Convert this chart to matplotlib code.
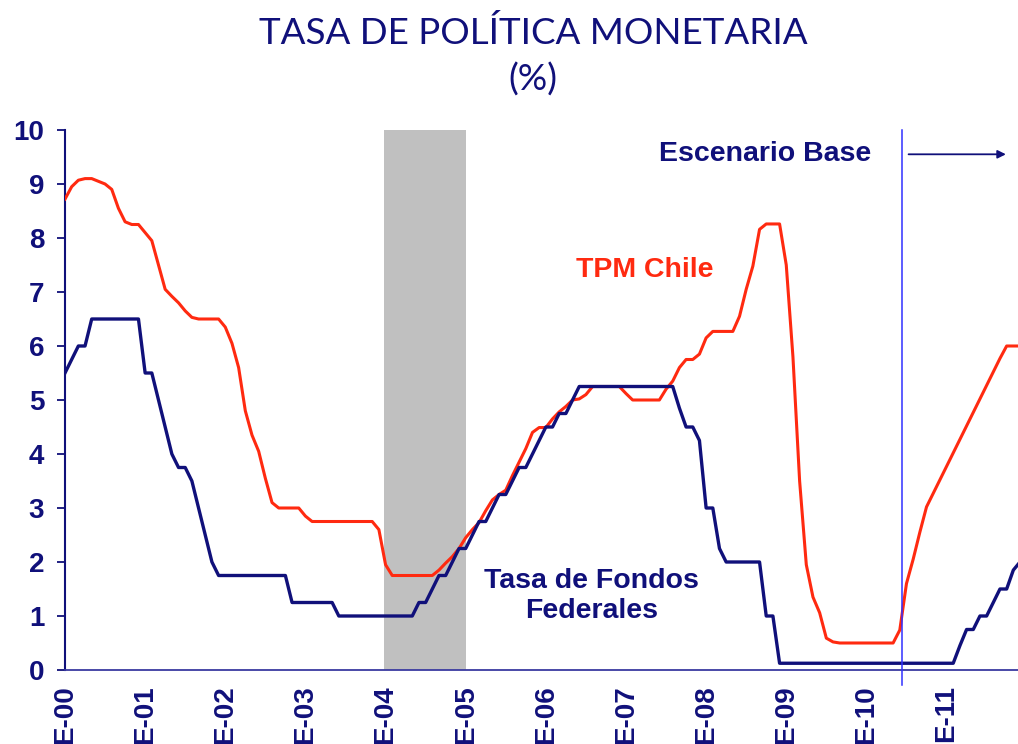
import matplotlib
matplotlib.use("Agg")
import matplotlib.pyplot as plt
import numpy as np

# monthly data, Jan 2000 - Dec 2011
tpm_chile = [
    8.72, 8.95, 9.07, 9.1, 9.1, 9.05, 9.0, 8.9, 8.55, 8.3, 8.25, 8.25,      # 2000
    8.1, 7.95, 7.5, 7.05, 6.92, 6.8, 6.65, 6.53, 6.5, 6.5, 6.5, 6.5,        # 2001
    6.35, 6.05, 5.6, 4.8, 4.35, 4.05, 3.55, 3.1, 3.0, 3.0, 3.0, 3.0,        # 2002
    2.85, 2.75, 2.75, 2.75, 2.75, 2.75, 2.75, 2.75, 2.75, 2.75, 2.75, 2.6,  # 2003
    1.95, 1.75, 1.75, 1.75, 1.75, 1.75, 1.75, 1.75, 1.85, 1.98, 2.1, 2.25,  # 2004
    2.45, 2.6, 2.73, 2.95, 3.15, 3.25, 3.33, 3.6, 3.85, 4.1, 4.4, 4.49,     # 2005
    4.49, 4.65, 4.78, 4.88, 5.0, 5.02, 5.1, 5.25, 5.25, 5.25, 5.25, 5.25,   # 2006
    5.12, 5.0, 5.0, 5.0, 5.0, 5.0, 5.2, 5.35, 5.6, 5.75, 5.75, 5.85,        # 2007
    6.15, 6.27, 6.27, 6.27, 6.27, 6.55, 7.05, 7.48, 8.16, 8.26, 8.26, 8.26, # 2008
    7.5, 5.8, 3.5, 1.95, 1.35, 1.06, 0.59, 0.52, 0.5, 0.5, 0.5, 0.5,        # 2009
    0.5, 0.5, 0.5, 0.5, 0.5, 0.74, 1.6, 2.05, 2.55, 3.02, 3.27, 3.52,       # 2010
    3.77, 4.02, 4.27, 4.52, 4.77, 5.02, 5.27, 5.52, 5.77, 6.0, 6.0, 6.0,    # 2011
]
fed_funds = [
    5.5, 5.75, 6.0, 6.0, 6.5, 6.5, 6.5, 6.5, 6.5, 6.5, 6.5, 6.5,
    5.5, 5.5, 5.0, 4.5, 4.0, 3.75, 3.75, 3.5, 3.0, 2.5, 2.0, 1.75,
    1.75, 1.75, 1.75, 1.75, 1.75, 1.75, 1.75, 1.75, 1.75, 1.75, 1.25, 1.25,
    1.25, 1.25, 1.25, 1.25, 1.25, 1.0, 1.0, 1.0, 1.0, 1.0, 1.0, 1.0,
    1.0, 1.0, 1.0, 1.0, 1.0, 1.25, 1.25, 1.5, 1.75, 1.75, 2.0, 2.25,
    2.25, 2.5, 2.75, 2.75, 3.0, 3.25, 3.25, 3.5, 3.75, 3.75, 4.0, 4.25,
    4.5, 4.5, 4.75, 4.75, 5.0, 5.25, 5.25, 5.25, 5.25, 5.25, 5.25, 5.25,
    5.25, 5.25, 5.25, 5.25, 5.25, 5.25, 5.25, 5.25, 4.85, 4.5, 4.5, 4.25,
    3.0, 3.0, 2.25, 2.0, 2.0, 2.0, 2.0, 2.0, 2.0, 1.0, 1.0, 0.125,
    0.125, 0.125, 0.125, 0.125, 0.125, 0.125, 0.125, 0.125, 0.125, 0.125, 0.125, 0.125,
    0.125, 0.125, 0.125, 0.125, 0.125, 0.125, 0.125, 0.125, 0.125, 0.125, 0.125, 0.125,
    0.125, 0.125, 0.45, 0.75, 0.75, 1.0, 1.0, 1.25, 1.5, 1.5, 1.85, 2.0,
]
year_labels = ["E-00", "E-01", "E-02", "E-03", "E-04", "E-05",
               "E-06", "E-07", "E-08", "E-09", "E-10", "E-11"]
shade_start, shade_end = 47.7, 60      # 2004
scenario_month = 125.4                 # start of base scenario

navy = "#10107a"
red = "#ff2a10"

plt.rcParams['font.family'] = ['Liberation Sans', 'DejaVu Sans']

fig = plt.figure(figsize=(10.18, 7.44), dpi=100)
ax = fig.add_axes([65/1018, 74/744, 953/1018, 540/744])

months = np.arange(len(tpm_chile))
ax.axvspan(shade_start, shade_end, color="#c0c0c0", zorder=0, lw=0)
ax.plot(months, tpm_chile, color=red, lw=2.2, zorder=3)
ax.plot(months, fed_funds, color=navy, lw=2.4, zorder=3)

ax.plot([scenario_month, scenario_month], [-0.28, 10], color="#3030ff",
        lw=1.1, clip_on=False, zorder=4)
ax.annotate("", xy=(141.3, 9.55), xytext=(125.9, 9.55),
            arrowprops=dict(arrowstyle="-|>", color=navy, lw=1.3,
                            mutation_scale=12))

ax.text(104.8, 9.55, "Escenario Base", color=navy, fontsize=20.5,
        fontweight="bold", ha="center", va="center")
ax.text(86.8, 7.41, "TPM Chile", color=red, fontsize=20.5,
        fontweight="bold", ha="center", va="center")
ax.text(78.9, 1.37, "Tasa de Fondos\nFederales", color=navy, fontsize=20.5,
        fontweight="bold", ha="center", va="center", linespacing=1.22)

ax.set_xlim(0, 142.7)
ax.set_ylim(0, 10)
ax.set_yticks(range(0, 11))
ax.set_xticks(np.arange(0, 12 * len(year_labels), 12))
ax.set_xticklabels(year_labels, rotation=90)

for s in ["top", "right"]:
    ax.spines[s].set_visible(False)
ax.spines["left"].set_color(navy)
ax.spines["left"].set_linewidth(1.5)
ax.spines["bottom"].set_color("#3a3aa0")
ax.spines["bottom"].set_linewidth(1.3)

ax.tick_params(axis="y", colors=navy, labelsize=20, length=6, width=1.3, pad=9)
ax.tick_params(axis="x", colors=navy, labelsize=20, length=0, pad=11)
for lbl in ax.get_xticklabels() + ax.get_yticklabels():
    lbl.set_fontweight("bold")

fig.text(533/1018, 1 - 33/744, "TASA DE POLÍTICA MONETARIA", color=navy,
         fontsize=26.5, ha="center", va="center", family=["Lato", "DejaVu Sans"])
fig.text(533/1018, 1 - 80/744, "(%)", color=navy,
         fontsize=26.5, ha="center", va="center", family=["Lato", "DejaVu Sans"])

fig.savefig("out.png", dpi=100)
